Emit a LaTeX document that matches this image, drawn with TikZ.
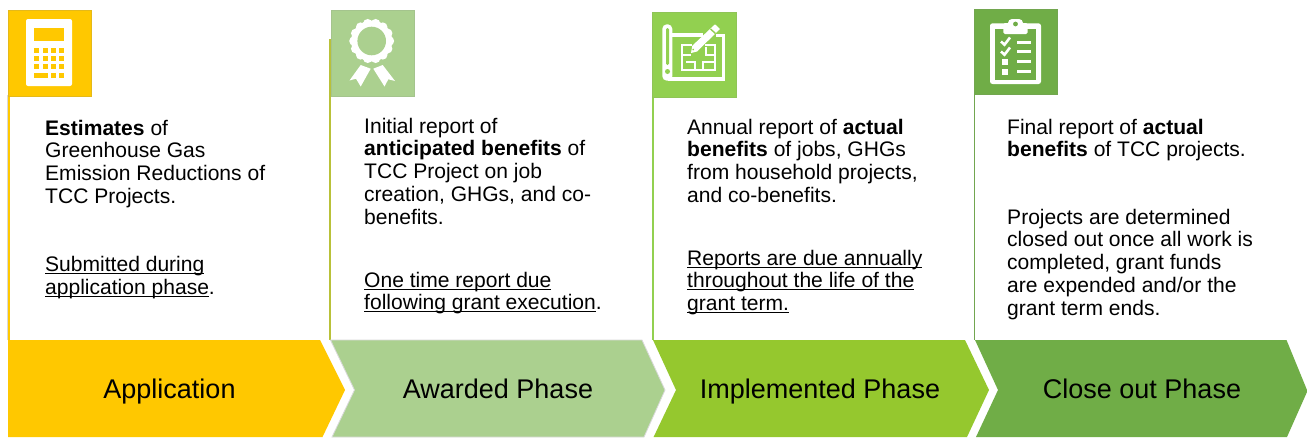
\documentclass[tikz,border=0pt]{standalone}
\usepackage{fontspec}
\usetikzlibrary{calc}
\setmainfont{Liberation Sans}
\newcommand\ulx[1]{\leavevmode\setbox0\hbox{#1}\rlap{\rule[-2.6pt]{\wd0}{1.1pt}}\box0}
\definecolor{cYellow}{HTML}{FFC800}
\definecolor{cPale}{HTML}{ABD08F}
\definecolor{cLime}{HTML}{95C82E}
\definecolor{cLimeB}{HTML}{92D050}
\definecolor{cLeaf}{HTML}{70AD47}
\tikzset{
  body/.style={anchor=north west,inner sep=0pt,align=left,font=\fontsize{21.05}{22.75}\selectfont,text=black},
  phase/.style={inner sep=0pt,anchor=base,font=\fontsize{27}{30}\selectfont,text=black},
  iconbox/.style={inner sep=0pt,minimum width=83.5pt,minimum height=85.5pt,anchor=north west},
  glyph/.style={fill=white,draw=none},
}
\begin{document}
\begin{tikzpicture}[x=1pt,y=-1pt]
\useasboundingbox (0,0) rectangle (1307,437);
\fill[white] (0,0) rectangle (1307,437);
% vertical rules
\fill[black!15] (7.3,95) rectangle (8,340);
\fill[cYellow] (8,95) rectangle (10,340);
\fill[cYellow!45!cLimeB!85!gray] (329.3,39) rectangle (331,340);
\fill[cLimeB] (652,12) rectangle (654,340);
\fill[cLeaf!85!gray] (973.5,9) rectangle (975.2,340);
% chevrons
\fill[cYellow] (8,340) -- (320,340) -- (345,390) -- (322.5,437) -- (8,437) -- cycle;
\fill[cPale,draw=black!15,line width=0.8pt] (330.5,340) -- (642,340) -- (665,390) -- (644,437) -- (332,437) -- (354.5,390) -- cycle;
\fill[cLime] (653,340) -- (965,340) -- (989,390) -- (967,437) -- (653.6,437) -- (676,390) -- cycle;
\fill[cLeaf] (975,340) -- (1286.5,340) -- (1307,390) -- (1307,392) -- (1287,437) -- (976,437) -- (998,390) -- cycle;
\node[phase] (p1) at (169.5,398) {Application};
\node[phase] (p2) at (498,398) {Awarded Phase};
\node[phase] (p3) at (820,398) {Implemented Phase};
\node[phase] (p4) at (1142,398) {Close out Phase};
% icon boxes
\node[iconbox,fill=cYellow,draw=cYellow!80!gray,line width=0.5pt] (i1) at (7.5,10) {};
\node[iconbox,fill=cPale,draw=cPale!85!gray,line width=0.5pt] (i2) at (330.5,10) {};
\node[iconbox,fill=cLimeB,draw=cLimeB!85!gray,line width=0.3pt] (i3) at (652,11.5) {};
\node[iconbox,fill=cLeaf,draw=cLeaf!85!gray,line width=0.3pt] (i4) at (973.5,8.7) {};
% calculator
\fill[glyph,rounded corners=2pt] (26,19) rectangle (72,86);
\fill[cYellow] (34,27.5) rectangle (64,41);
\foreach \r in {47.5,56,64}{\foreach \c in {34,42.5,51,59}{\fill[cYellow] (\c,\r) rectangle +(5,5);}}
\fill[cYellow] (34,72.5) rectangle (47.5,77.5);
\fill[cYellow] (51,72.5) rectangle +(5,5);
\fill[cYellow] (59,72.5) rectangle +(5,5);
% rosette
\foreach \a in {0,25.714,...,340}{\fill[white] ($(371.7,41)+(\a:17.8)$) circle (4.7);}
\fill[white] (371.7,41) circle (20.5);
\fill[cPale] (371.7,41) circle (14.3);
\fill[white] (360.7,65) -- (370.7,68.7) -- (360.7,86.5) -- (356,78.7) -- (349.5,80.5) -- cycle;
\fill[white] (382.7,65) -- (373.3,68.7) -- (384.5,86.5) -- (388.3,79.3) -- (395,81) -- cycle;
% blueprint
\fill[white,rounded corners=4.5pt] (662.3,24.3) rectangle (672.3,80.7);
\fill[cLimeB,rounded corners=1.4pt] (666,28) rectangle (669,65);
\fill[cLimeB] (667.5,71.5) circle (2.5);
\fill[white] (668,76.9) rectangle (725,80.7);
\fill[white] (721.7,34) rectangle (725,80.7);
\fill[white] (672,33.3) rectangle (703,36.7);
\fill[white] (716,33.5) rectangle (725,36.7);
\begin{scope}[white,line width=2.4pt,line join=miter]
\draw (692,45) -- (682,45) -- (682,70) -- (715,70) -- (715,45) -- (705,45);
\draw[line width=2pt] (682,55) -- (691,55);
\draw[line width=2pt] (686,62) -- (695,62) -- (695,70);
\draw[line width=2pt] (703,70) -- (703,62) -- (715,62);
\draw[line width=2pt] (706,47) -- (706,55) -- (715,55);
\end{scope}
\fill[white] (715,24.3) -- (720,29) -- (697,51.5) -- (691,53) -- (692.3,45.7) -- cycle;
\fill[cLimeB] (711,28.5) -- (716,33) -- (715,34) -- (710,29.5) -- cycle;
\fill[cLimeB] (693.2,49.6) circle (0.9);
% clipboard
\fill[white,rounded corners=2.5pt] (990,23.3) rectangle (1041,84);
\fill[cLeaf] (995,28.5) rectangle (1036,79.5);
\fill[white,rounded corners=1.5pt] (1003.4,23) rectangle (1027.6,34);
\fill[white,rounded corners=4pt] (1008,19) rectangle (1023,28);
\fill[cLeaf] (1015.5,24) circle (2.4);
\begin{scope}[white,line width=2.6pt]
\draw (1001,41.5) -- (1004.5,44.7) -- (1010,37.5);
\draw (1001,51.5) -- (1004.5,54.7) -- (1010,47.5);
\draw[line width=3pt] (1017.3,42.3) -- (1031,42.3);
\draw[line width=3pt] (1017.3,51.7) -- (1031,51.7);
\draw[line width=3pt] (1017.3,61.7) -- (1031,61.7);
\draw[line width=3pt] (1017.3,71.7) -- (1031,71.7);
\end{scope}
\fill[white] (1001.7,59) rectangle +(6,5.5);
\fill[white] (1001.7,69) rectangle +(6,5.5);
% texts
\node[body] (t1a) at (45,119) {\strut\textbf{Estimates} of\\Greenhouse Gas\\Emission Reductions of\\TCC Projects.};
\node[body] (t1b) at (45,255.5) {\strut\ulx{Submitted during}\\\ulx{application phase}.};
\node[body] (t2a) at (364,117) {\strut Initial report of\\\textbf{anticipated benefits} of\\TCC Project on job\\creation, GHGs, and co-\\benefits.};
\node[body] (t2b) at (364,271) {\strut\ulx{One time report due}\\\ulx{following grant execution}.};
\node[body] (t3a) at (687,118) {\strut Annual report of \textbf{actual}\\\textbf{benefits} of jobs, GHGs\\from household projects,\\and co-benefits.};
\node[body] (t3b) at (687,249) {\strut\ulx{Reports are due annually}\\\ulx{throughout the life of the}\\\ulx{grant term.}};
\node[body] (t4a) at (1007,118) {\strut Final report of \textbf{actual}\\\textbf{benefits} of TCC projects.};
\node[body] (t4b) at (1007,208) {\strut Projects are determined\\closed out once all work is\\completed, grant funds\\are expended and/or the\\grant term ends.};
\end{tikzpicture}
\end{document}
